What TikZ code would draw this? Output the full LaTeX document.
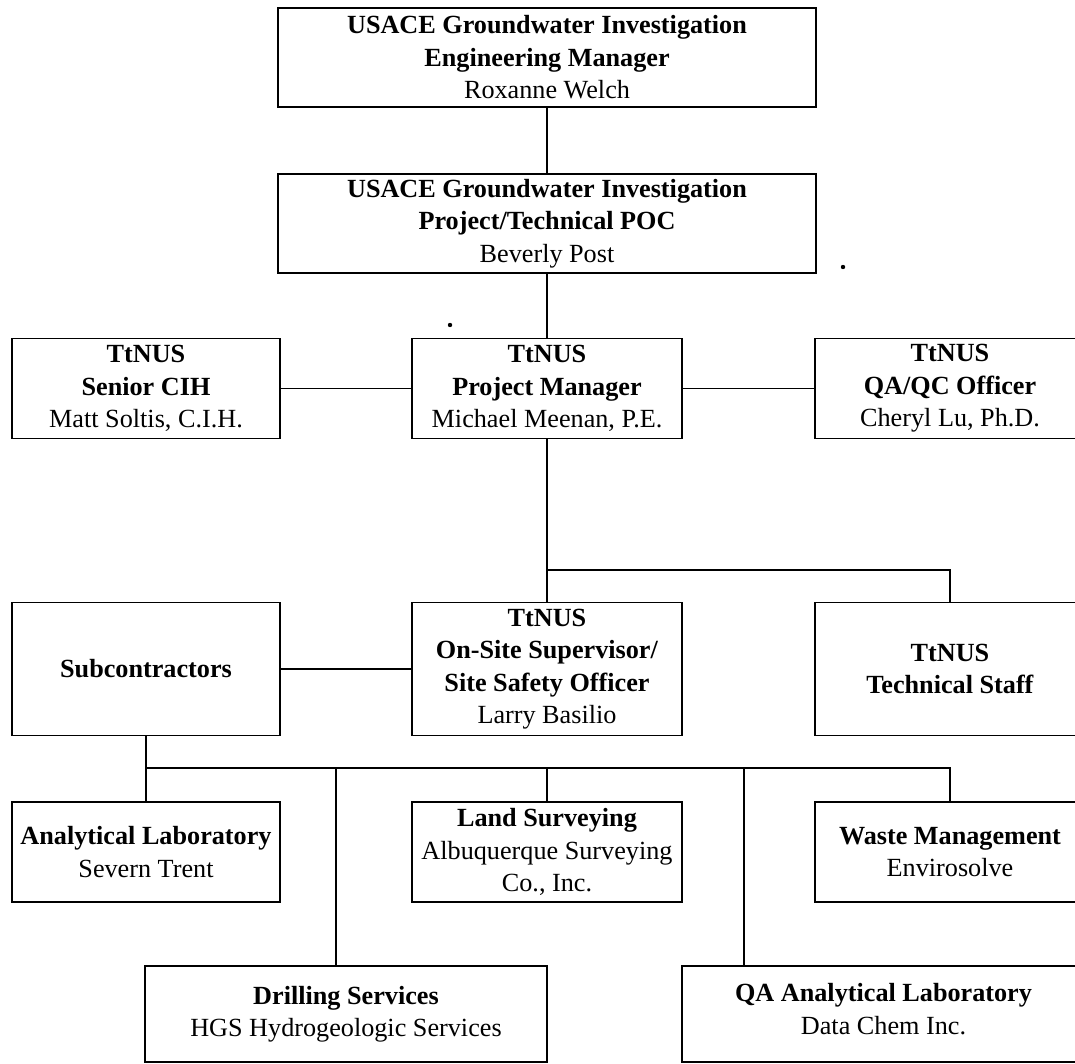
\documentclass[tikz,border=0pt]{standalone}
\usepackage{fontspec}
\setmainfont{Liberation Serif}
\begin{document}
\begin{tikzpicture}[x=1pt,y=-1pt,
    box/.style={draw,line width=1.8pt,inner sep=0pt,align=center,
      minimum width=270,minimum height=99,
      font=\fontsize{26.2}{32.5}\selectfont},
    link/.style={line width=1.8pt}]
      \useasboundingbox (0,0) rectangle (1075,1064) ;
      \clip (0,0) rectangle (1075,1064) ;
      \node[box,minimum width=538] (EM) at (547,57.5)
        {\textbf{USACE Groundwater Investigation}\\\textbf{Engineering Manager}\\Roxanne Welch} ;
      \node[box,minimum width=538] (POC) at (547,223.5)
        {\textbf{USACE Groundwater Investigation}\\\textbf{Project/Technical POC}\\Beverly Post} ;
      \node[box,minimum width=268,minimum height=100] (CIH) at (146,388.5)
        {\textbf{TtNUS}\\\textbf{Senior CIH}\\Matt Soltis, C.I.H.} ;
      \node[box,minimum height=100] (PM) at (547,388.5)
        {\textbf{TtNUS}\\\textbf{Project Manager}\\Michael Meenan, P.E.} ;
      \node[box,minimum height=100] (QA) at (950,388.5)
        {\textbf{TtNUS}\\\textbf{QA/QC Officer}\\Cheryl Lu, Ph.D.} ;
      \node[box,minimum width=268,minimum height=133] (SUB) at (146,669)
        {\textbf{Subcontractors}} ;
      \node[box,minimum height=133] (OSS) at (547,669)
        {\textbf{TtNUS}\\\textbf{On-Site Supervisor/}\\\textbf{Site Safety Officer}\\Larry Basilio} ;
      \node[box,minimum height=133] (TS) at (950,669)
        {\textbf{TtNUS}\\\textbf{Technical Staff}} ;
      \node[box,minimum width=268,minimum height=100] (AL) at (146,852)
        {\textbf{Analytical Laboratory}\\Severn Trent} ;
      \node[box,minimum height=100] (LS) at (547,852)
        {\textbf{Land Surveying}\\Albuquerque Surveying\\Co., Inc.} ;
      \node[box,minimum height=100] (WM) at (950,852)
        {\textbf{Waste Management}\\Envirosolve} ;
      \node[box,minimum width=402,minimum height=96] (DS) at (346,1014)
        {\textbf{Drilling Services}\\HGS Hydrogeologic Services} ;
      \node[box,minimum width=403,minimum height=96] (QAL) at (883.5,1014)
        {\textbf{QA Analytical Laboratory}\\Data Chem Inc.\strut} ;
      \draw[link] (EM) -- (POC) ;
      \draw[link] (POC) -- (PM) ;
      \draw[link] (CIH) -- (PM) ;
      \draw[link] (PM) -- (QA) ;
      \draw[link] (PM) -- (OSS) ;
      \coordinate (B1) at (547,570) ;
      \draw[link] (B1) -| (TS) ;
      \draw[link] (SUB) -- (OSS) ;
      \coordinate (B2) at (146,768) ;
      \coordinate (D1) at (336,768) ;
      \coordinate (D2) at (744,768) ;
      \draw[link] (SUB) -- (B2) -| (WM) ;
      \draw[link] (B2) -- (AL) ;
      \draw[link] (B2 -| LS) -- (LS) ;
      \draw[link] (D1) -- (D1 |- DS.north) ;
      \draw[link] (D2) -- (D2 |- QAL.north) ;
      \fill (843,267) circle (2.2) ;
      \fill (450,325) circle (2.2) ;
    \end{tikzpicture}
\end{document}
